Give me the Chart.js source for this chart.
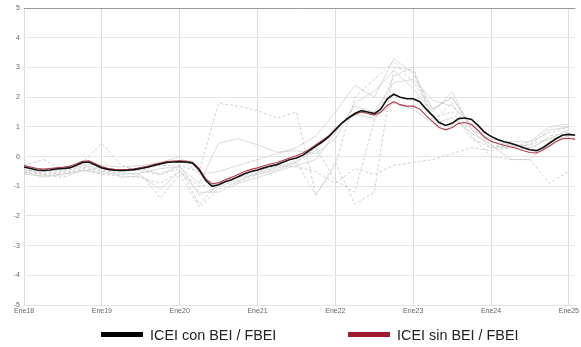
<!DOCTYPE html>
<html>
<head>
<meta charset="utf-8">
<script src="https://cdn.jsdelivr.net/npm/chart.js@4.4.0/dist/chart.umd.min.js"></script>
<style>
  html, body { margin: 0; padding: 0; background: #fff; }
  #wrap { position: relative; width: 581px; height: 347px; }
  .leg { position: absolute; top: 326px; height: 17px; display: flex; align-items: center;
         font-family: 'Liberation Sans', Arial, sans-serif; font-size: 14.4px; color: #222; white-space: nowrap; }
  .leg span.bar { display: inline-block; width: 42px; height: 5px; margin-right: 7px; }
</style>
</head>
<body>
<div id="wrap">
  <canvas id="iceiChart"></canvas>
  <div class="leg" id="legCon" style="left:101px"><span class="bar" style="background:#000"></span><span id="legConTxt"></span></div>
  <div class="leg" id="legSin" style="left:348px"><span class="bar" style="background:#9e1a2e"></span><span id="legSinTxt"></span></div>
</div>
<script>
// === DATOS ===
// meses desde Ene18 (0) hasta Feb25 (85)
const tickMonths = [0, 12, 24, 36, 48, 60, 72, 84];
const tickLabels = ['Ene18', 'Ene19', 'Ene20', 'Ene21', 'Ene22', 'Ene23', 'Ene24', 'Ene25'];
const seriesNames = ['ICEI con BEI / FBEI', 'ICEI sin BEI / FBEI'];

// ICEI con BEI / FBEI (mensual)
const iceiCon = [
  -0.35, -0.40, -0.45, -0.47, -0.45, -0.42, -0.40, -0.38, -0.30, -0.20, -0.18, -0.28,
  -0.38, -0.43, -0.46, -0.47, -0.46, -0.44, -0.40, -0.36, -0.30, -0.25, -0.20, -0.18,
  -0.17, -0.18, -0.22, -0.45, -0.80, -1.00, -0.95, -0.85, -0.78, -0.68, -0.58, -0.50,
  -0.45, -0.38, -0.32, -0.27, -0.18, -0.10, -0.05, 0.05, 0.20, 0.35, 0.50, 0.67,
  0.90, 1.13, 1.30, 1.45, 1.55, 1.50, 1.45, 1.60, 1.95, 2.10, 2.00, 1.95,
  1.95, 1.85, 1.60, 1.38, 1.15, 1.05, 1.12, 1.28, 1.30, 1.25, 1.05, 0.82,
  0.68, 0.58, 0.50, 0.45, 0.38, 0.30, 0.23, 0.20, 0.30, 0.45, 0.60, 0.72,
  0.75, 0.72
];

// ICEI sin BEI / FBEI (mensual)
const iceiSin = [
  -0.30, -0.35, -0.40, -0.42, -0.40, -0.38, -0.36, -0.33, -0.25, -0.16, -0.14, -0.24,
  -0.34, -0.40, -0.43, -0.44, -0.43, -0.41, -0.37, -0.33, -0.27, -0.22, -0.17, -0.15,
  -0.14, -0.15, -0.19, -0.40, -0.74, -0.92, -0.88, -0.78, -0.70, -0.60, -0.50, -0.43,
  -0.38, -0.31, -0.25, -0.20, -0.12, -0.04, 0.03, 0.12, 0.25, 0.40, 0.55, 0.70,
  0.92, 1.13, 1.30, 1.42, 1.50, 1.45, 1.40, 1.50, 1.72, 1.85, 1.75, 1.70,
  1.70, 1.60, 1.38, 1.18, 0.98, 0.90, 0.98, 1.12, 1.15, 1.08, 0.88, 0.65,
  0.52, 0.44, 0.38, 0.33, 0.27, 0.20, 0.14, 0.12, 0.22, 0.36, 0.50, 0.60,
  0.62, 0.58
];

// indicadores individuales (trimestral: Ene, Abr, Jul, Oct)
const quarterMonths = [0, 3, 6, 9, 12, 15, 18, 21, 24, 27, 30, 33, 36, 39, 42, 45,
  48, 51, 54, 57, 60, 63, 66, 69, 72, 75, 78, 81, 84];

const grey1 = [-0.50, -0.55, -0.50, -0.35, -0.45, -0.50, -0.45, -0.30, -0.30, -0.50, 1.80, 1.70, 1.55, 1.30, 1.50, -1.30,
  -0.30, 2.00, 2.60, 3.20, 2.50, 1.60, 2.00, 1.00, 0.40, 0.30, 0.50, 0.80, 1.00];
const grey2 = [-0.60, -0.65, -0.60, -0.45, -0.55, -0.60, -0.55, -0.40, -0.35, -0.90, 0.45, 0.60, 0.40, 0.15, 0.20, 0.10,
  0.60, 1.80, 2.20, 2.90, 2.30, 1.50, 2.20, 0.90, 0.30, 0.30, 0.40, 0.90, 1.00];
const grey3 = [-0.30, -0.10, -0.40, -0.20, 0.45, -0.30, -0.50, -0.60, -0.40, -1.60, -0.90, -0.70, -0.60, -0.40, -0.20, -1.30,
  -0.20, -1.60, -1.20, 3.00, 2.90, 1.20, 1.80, 0.70, 0.00, -0.10, -0.10, -0.90, -0.50];
const grey4 = [-0.50, -0.70, -0.60, -0.50, -0.35, -0.70, -0.65, -1.10, -0.50, -1.20, -1.20, -0.90, -0.70, -0.50, -0.30, -0.10,
  0.80, 1.70, 1.50, 2.50, 2.60, 1.90, 1.70, 1.10, 0.50, 0.40, 0.30, 0.60, 0.90];
const grey5 = [-0.40, -0.60, -0.55, -0.40, -0.50, -0.55, -0.60, -1.40, -0.60, -1.70, -1.10, -0.85, -0.60, -0.45, -0.20, 0.30,
  -0.80, -1.20, 1.20, 2.70, 3.00, 1.30, 1.50, 0.60, 0.30, 0.40, 0.20, 0.70, 0.80];
const grey6 = [-0.45, -0.50, -0.45, -0.30, -0.40, -0.45, -0.40, -0.60, -0.30, -1.30, -1.00, -0.80, -0.55, -0.35, -0.15, 0.20,
  1.00, 1.40, 1.30, 1.80, 1.60, 1.10, 1.30, 0.80, 0.40, -0.10, -0.10, 0.50, 0.70];
const grey7 = [-0.55, -0.60, -0.70, -0.45, -0.60, -0.65, -0.70, -0.90, -0.50, -1.00, -0.90, -0.70, -0.50, -0.30, -0.35, -0.50,
  -0.90, -0.40, -0.60, -0.30, -0.20, -0.10, 0.10, 0.30, 0.20, 0.30, 0.40, 0.60, 0.60];
const grey8 = [-0.30, -0.45, -0.35, -0.25, -0.30, -0.35, -0.30, -0.20, 0.00, -0.60, -0.50, -0.30, -0.10, 0.10, 0.30, 0.70,
  1.50, 2.40, 2.00, 3.30, 2.80, 1.60, 2.00, 0.90, 0.60, 0.50, 0.50, 1.00, 1.10];

const greySeries = [grey1, grey2, grey3, grey4, grey5, grey6, grey7, grey8];
const greyDashed = [true, false, true, false, true, false, true, false];

// === LEYENDA ===
document.getElementById('legConTxt').textContent = seriesNames[0];
document.getElementById('legSinTxt').textContent = seriesNames[1];

// === CHART ===
const monthly = vals => vals.map((v, i) => ({ x: i, y: v }));
const quarterly = vals => vals.map((v, i) => ({ x: quarterMonths[i], y: v }));

const datasets = [
  {
    label: seriesNames[0],
    data: monthly(iceiCon),
    borderColor: '#111111',
    borderWidth: 1.6
  },
  {
    label: seriesNames[1],
    data: monthly(iceiSin),
    borderColor: '#b53a48',
    borderWidth: 1.1
  }
];
greySeries.forEach((vals, i) => {
  datasets.push({
    label: 'g' + (i + 1),
    data: quarterly(vals),
    borderColor: greyDashed[i] ? '#c4c4c4' : '#d0d0d0',
    borderWidth: 0.8,
    borderDash: greyDashed[i] ? [3, 2] : []
  });
});

const ctx = document.getElementById('iceiChart').getContext('2d');
new Chart(ctx, {
  type: 'line',
  data: { datasets: datasets },
  options: {
    responsive: true,
    maintainAspectRatio: false,
    animation: false,
    elements: { point: { radius: 0 }, line: { tension: 0 } },
    layout: { padding: { top: 8, right: 0, left: 0, bottom: 0 } },
    scales: {
      x: {
        type: 'linear',
        min: 0,
        max: 85,
        afterBuildTicks: scale => { scale.ticks = tickMonths.map(v => ({ value: v })); },
        afterFit: scale => { scale.height = 42; },
        ticks: {
          callback: v => tickLabels[tickMonths.indexOf(v)],
          font: { family: 'Liberation Sans', size: 7 },
          color: '#666',
          maxRotation: 0,
          padding: 2
        },
        grid: { color: '#dcdcdc', lineWidth: 1, tickLength: 0 },
        border: { color: '#e4e4e4' }
      },
      y: {
        min: -5,
        max: 5,
        afterFit: scale => { scale.width = 24; },
        ticks: {
          stepSize: 1,
          font: { family: 'Liberation Sans', size: 7 },
          color: '#666',
          padding: 4
        },
        grid: {
          color: c => c.tick && c.tick.value === 5 ? '#9a9a9a' : '#e6e6e6',
          lineWidth: 1,
          tickLength: 0
        },
        border: { display: false }
      }
    },
    plugins: {
      tooltip: { enabled: false },
      legend: { display: false }
    }
  }
});
</script>
</body>
</html>
